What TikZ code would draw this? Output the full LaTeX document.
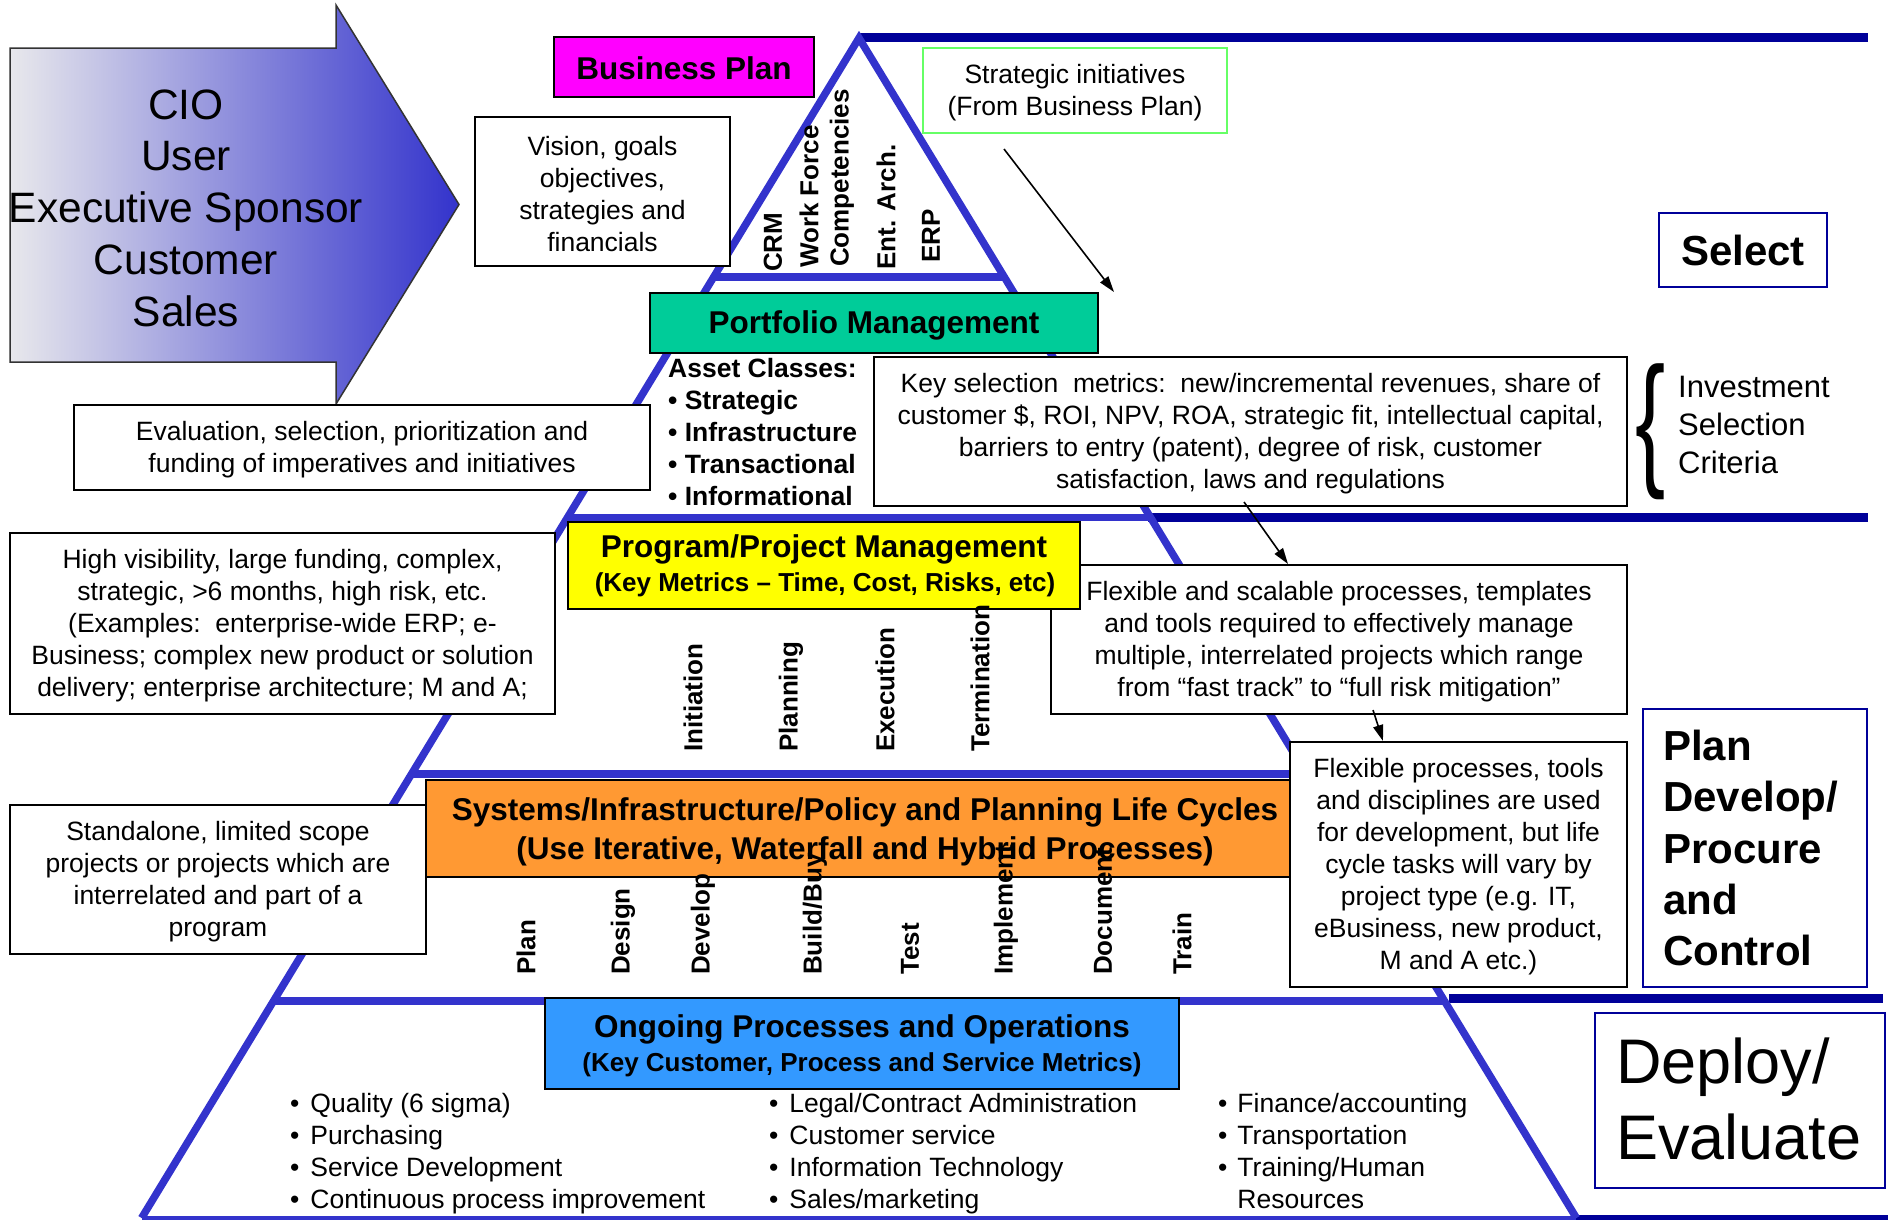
\documentclass[tikz,border=0pt]{standalone}
\usepackage{fontspec}
\setmainfont{Liberation Sans}
\usetikzlibrary{arrows.meta}

\definecolor{pyrblue}{HTML}{3333CC}
\definecolor{navy}{HTML}{000099}
\definecolor{bpmagenta}{HTML}{FF00FF}
\definecolor{pmteal}{HTML}{00CC99}
\definecolor{ppyellow}{HTML}{FFFF00}
\definecolor{lcorange}{HTML}{FF9933}
\definecolor{opsblue}{HTML}{3399FF}
\definecolor{sigreen}{HTML}{66FF66}
\definecolor{arrowlight}{HTML}{E8E8EC}
\definecolor{arrowmid}{HTML}{A4A4D8}

\begin{document}
\begin{tikzpicture}[x=1pt,y=-1pt,
  txt/.style={font=\fontsize{26.5}{32}\selectfont, align=center, inner sep=0pt},
  box/.style={draw=black, line width=2pt, fill=white, inner sep=0pt},
  fillbox/.style={draw=black, line width=2pt, inner sep=0pt},
  phasebox/.style={draw=navy, line width=2.5pt, fill=white, inner sep=0pt},
  hdr/.style={font=\fontsize{31.5}{38}\selectfont\bfseries, inner sep=0pt},
  subhdr/.style={font=\fontsize{26}{32}\selectfont\bfseries, inner sep=0pt},
  vlab/.style={font=\fontsize{26}{26}\selectfont\bfseries, rotate=90, anchor=west, inner sep=0pt},
  listtxt/.style={font=\fontsize{26.5}{32}\selectfont, inner sep=0pt, anchor=west},
  pyr/.style={draw=pyrblue, line width=7.5pt},
  navyline/.style={draw=navy, line width=9pt},
  conn/.style={draw=black, line width=1.6pt, -{Triangle[length=16pt,width=10pt]}}]

\useasboundingbox (0,0) rectangle (1888,1219);

% ---- frame lines of the pyramid ----
\coordinate (apex) at (859,38);
\coordinate (botL) at (141.6,1218);
\coordinate (botR) at (1576.4,1218);

\draw[navyline] (859,37.5) -- (1868,37.5);
\draw[navyline] (1148,517.5) -- (1868,517.5);
\draw[navyline] (1449,998) -- (1883,998);
\draw[navy, line width=6pt] (1574,1218) -- (1888,1218);

\draw[pyr, line join=miter] (botL) -- (apex) -- (botR);
\draw[pyr] (713.7,277) -- (1004.3,277);
\draw[pyr] (567.5,517.5) -- (1150.5,517.5);
\draw[pyr] (411.5,774) -- (1306.5,774);
\draw[pyr] (273.5,1001) -- (1444.5,1001);
\draw[pyrblue, line width=5pt] (141.6,1218) -- (1576.4,1218);

% ---- stakeholder arrow ----
\shade[left color=arrowlight, middle color=arrowmid, right color=pyrblue, draw=black!80, line width=1.5pt]
  (10,48) -- (336,48) -- (336,5) -- (459,204.5) -- (336,404) -- (336,362) -- (10,362) -- cycle;
\node[font=\fontsize{42.5}{51.75}\selectfont, align=center, inner sep=0pt] (roles) at (186,208)
  {CIO\\User\\Executive Sponsor\\Customer\\Sales};

% ---- selection level ----
\node[fillbox, fill=bpmagenta, line width=2.5pt, minimum width=260pt, minimum height=60pt] (bp) at (684,67) {};
\node[font=\fontsize{31.5}{36}\selectfont\bfseries, inner sep=0pt] (bpT) at ([yshift=-1.5pt]bp.center) {Business Plan};

\node[box, minimum width=255pt, minimum height=149pt] (vision) at (602.5,191.5) {};
\node[txt] (visionT) at ([yshift=-2.5pt]vision.center) {Vision, goals\\objectives,\\strategies and\\financials};

\node[box, draw=sigreen, minimum width=304pt, minimum height=85pt] (strat) at (1075,90.5) {};
\node[txt] (stratT) at ([yshift=-2.5pt]strat.center) {Strategic initiatives\\(From Business Plan)};

\node[vlab] (crm) at (773,272) {CRM};
\node[vlab] (wf) at (809,268) {Work Force};
\node[vlab] (comp) at (842,267) {Competencies};
\node[vlab] (ea) at (886,270) {Ent. Arch.};
\node[vlab] (erp) at (931,263) {ERP};

\node[phasebox, minimum width=168pt, minimum height=74pt,
  font=\fontsize{42}{50}\selectfont\bfseries] (sel) at (1743,250) {Select};

\node[fillbox, fill=pmteal, minimum width=448pt, minimum height=60pt] (pm) at (874,323) {};
\node[hdr] (pmT) at ([yshift=-2.5pt]pm.center) {Portfolio Management};

\node[font=\fontsize{26.5}{32}\selectfont\bfseries, align=left, inner sep=0pt, anchor=west] (assets)
  at (668,432) {Asset Classes:\\• Strategic\\• Infrastructure\\• Transactional\\• Informational};

\node[box, minimum width=753pt, minimum height=149pt] (keymet) at (1250.5,431.5) {};
\node[txt] (keymetT) at ([yshift=-2.5pt]keymet.center)
  {Key selection\ \ metrics:\ \ new/incremental revenues, share of\\customer \$, ROI, NPV, ROA, strategic fit, intellectual capital,\\barriers to entry (patent), degree of risk, customer\\satisfaction, laws and regulations};

\node[inner sep=0pt] (brace) at (1651,432)
  {\scalebox{0.62}[1]{\fontsize{146}{146}\selectfont\{}};
\node[font=\fontsize{31}{38}\selectfont, align=left, inner sep=0pt, anchor=west] (isc)
  at (1678,425) {Investment\\Selection\\Criteria};

\node[box, minimum width=576pt, minimum height=85pt] (evalsel) at (362,447.5) {};
\node[txt] (evalselT) at ([yshift=-2.5pt]evalsel.center)
  {Evaluation, selection, prioritization and\\funding of imperatives and initiatives};

% ---- program / project level ----
\node[box, minimum width=576pt, minimum height=149pt] (flexscal) at (1339,639.5) {};
\node[txt] (flexscalT) at ([yshift=-2.5pt]flexscal.center)
  {Flexible and scalable processes, templates\\and tools required to effectively manage\\multiple, interrelated projects which range\\from “fast track” to “full risk mitigation”};

\node[fillbox, fill=ppyellow, minimum width=512pt, minimum height=87pt] (ppm) at (824,565.5) {};
\node[hdr] (ppmA) at (824,549.5) {Program/Project Management};
\node[subhdr] (ppmB) at (825,584.5) {(Key Metrics – Time, Cost, Risks, etc)};

\node[box, minimum width=545pt, minimum height=181pt] (highvis) at (282.5,623.5) {};
\node[txt] (highvisT) at ([yshift=-2.5pt]highvis.center)
  {High visibility, large funding, complex,\\strategic, >6 months, high risk, etc.\\(Examples:\ \ enterprise-wide ERP; e-\\Business; complex new product or solution\\delivery; enterprise architecture; M and A;};

\node[vlab] (init) at (693,752) {Initiation};
\node[vlab] (plng) at (791,752) {Planning};
\node[vlab] (exec) at (885,752) {Execution};
\node[vlab] (term) at (980,752) {Termination};

% ---- life cycle level ----
\node[fillbox, fill=lcorange, minimum width=880pt, minimum height=97pt] (slc) at (866,828.5) {};
\node[hdr] (slcA) at (865,812) {Systems/Infrastructure/Policy and Planning Life Cycles};
\node[hdr] (slcB) at (865,851) {(Use Iterative, Waterfall and Hybrid Processes)};

\node[box, minimum width=416pt, minimum height=149pt] (standalone) at (218,879.5) {};
\node[txt] (standaloneT) at ([yshift=-2.5pt]standalone.center)
  {Standalone, limited scope\\projects or projects which are\\interrelated and part of a\\program};

\node[box, minimum width=337pt, minimum height=245pt] (flexproc) at (1458.5,864.5) {};
\node[txt] (flexprocT) at ([yshift=-2.5pt]flexproc.center)
  {Flexible processes, tools\\and disciplines are used\\for development, but life\\cycle tasks will vary by\\project type (e.g. IT,\\eBusiness, new product,\\M and A etc.)};

\node[vlab] (lplan) at (526,975) {Plan};
\node[vlab] (ldes) at (623,975) {Design};
\node[vlab] (ldev) at (703,975) {Develop};
\node[vlab] (lbuy) at (815,975) {Build/Buy};
\node[vlab] (ltest) at (910,975) {Test};
\node[vlab] (limp) at (1006,975) {Implement};
\node[vlab] (ldoc) at (1103,975) {Document};
\node[vlab] (ltrain) at (1182,975) {Train};

\node[phasebox, minimum width=224pt, minimum height=278pt] (pdpc) at (1755,848) {};
\node[font=\fontsize{42}{51.25}\selectfont\bfseries, align=left, inner sep=0pt, anchor=west] (pdpcT)
  at (1663,848) {Plan\\Develop/\\Procure\\and\\Control};

% ---- operations level ----
\node[fillbox, fill=opsblue, minimum width=634pt, minimum height=91pt] (ops) at (862,1043.5) {};
\node[hdr] (opsA) at (862,1029.5) {Ongoing Processes and Operations};
\node[subhdr] (opsB) at (862,1064.5) {(Key Customer, Process and Service Metrics)};

\node[listtxt] (list1) at (290,1154.5) {\begin{tabular}{@{}l@{\hspace{11pt}}l@{}}
  •&Quality (6 sigma)\\ •&Purchasing\\ •&Service Development\\ •&Continuous process improvement\end{tabular}};
\node[listtxt] (list2) at (769,1154.5) {\begin{tabular}{@{}l@{\hspace{11pt}}l@{}}
  •&Legal/Contract Administration\\ •&Customer service\\ •&Information Technology\\ •&Sales/marketing\end{tabular}};
\node[listtxt] (list3) at (1218,1154.5) {\begin{tabular}{@{}l@{\hspace{10pt}}l@{}}
  •&Finance/accounting\\ •&Transportation\\ •&Training/Human\\ &Resources\end{tabular}};

\node[phasebox, minimum width=290pt, minimum height=175pt] (dep) at (1740,1100.5) {};
\node[font=\fontsize{63}{76}\selectfont, align=left, inner sep=0pt, anchor=west] (depT)
  at (1616,1099) {Deploy/\\Evaluate};

% ---- connectors ----
\coordinate (s1) at (1004,149);
\coordinate (e1) at (1114,292);
\coordinate (s2) at (1244,502);
\coordinate (e2) at (1288,564);
\coordinate (s3) at (1373,710);
\coordinate (e3) at (1383,741);
\draw[conn] (s1) -- (e1);
\draw[conn] (s2) -- (e2);
\draw[conn] (s3) -- (e3);

\end{tikzpicture}
\end{document}
